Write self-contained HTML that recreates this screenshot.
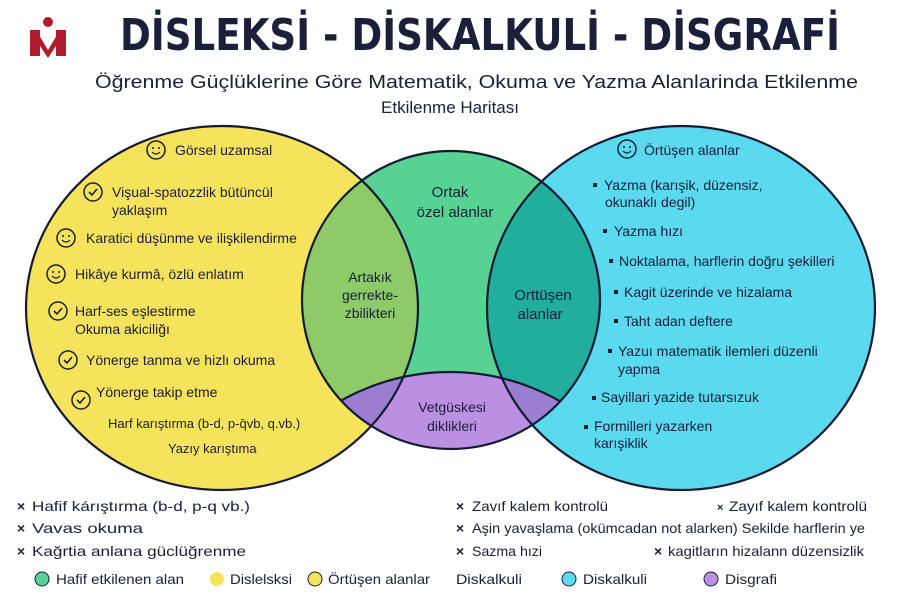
<!DOCTYPE html>
<html><head><meta charset="utf-8"><style>
html,body{margin:0;padding:0;width:900px;height:600px;background:#fff;overflow:hidden;}
svg{display:block;overflow:hidden}
svg text{font-family:"Liberation Sans","DejaVu Sans",sans-serif;fill:#1a1f3a;}
</style></head><body>
<svg width="900" height="600" viewBox="0 0 900 600" xmlns="http://www.w3.org/2000/svg">
<defs>
<clipPath id="cy"><ellipse cx="222" cy="308" rx="196" ry="182"/></clipPath>
<clipPath id="cc"><ellipse cx="681" cy="308" rx="194" ry="182"/></clipPath>
<clipPath id="cg"><circle cx="451" cy="300" r="149"/></clipPath>
<g id="sm"><circle r="9" fill="none" stroke="#1a1f3a" stroke-width="1.5"/><circle cx="-3" cy="-2" r="1" fill="#1a1f3a"/><circle cx="3" cy="-2" r="1" fill="#1a1f3a"/><path d="M-4 2 Q0 6 4 2" fill="none" stroke="#1a1f3a" stroke-width="1.2"/></g>
<g id="ck"><circle r="9" fill="none" stroke="#1a1f3a" stroke-width="1.5"/><path d="M-4 0 L-1 3 L4 -3" fill="none" stroke="#1a1f3a" stroke-width="1.6"/></g>
</defs>
<rect x="30" y="30" width="10" height="26" fill="#b01c2e"/>
<rect x="56" y="30" width="10" height="26" fill="#b01c2e"/>
<path d="M36 30 L48 50 L60 30 L60 40 L48 58 L36 40Z" fill="#b01c2e"/>
<circle cx="48" cy="22" r="5" fill="#b01c2e"/>
<text x="120" y="50" font-size="44" font-weight="bold" textLength="720" lengthAdjust="spacingAndGlyphs" style="font-family:'DejaVu Sans Condensed','Liberation Sans',sans-serif">DİSLEKSİ - DİSKALKULİ - DİSGRAFİ</text>
<text x="95" y="88" font-size="18" textLength="763" lengthAdjust="spacingAndGlyphs">Öğrenme Güçlüklerine Göre Matematik, Okuma ve Yazma Alanlarinda Etkilenme</text>
<text x="450" y="113" text-anchor="middle" font-size="17">Etkilenme Haritası</text>

<ellipse cx="222" cy="308" rx="196" ry="182" fill="#f5e35c"/>
<ellipse cx="681" cy="308" rx="194" ry="182" fill="#5bd9ef"/>
<circle cx="451" cy="300" r="149" fill="#58d292"/>
<g clip-path="url(#cg)">
<ellipse cx="222" cy="308" rx="196" ry="182" fill="#8ccb68"/>
<ellipse cx="681" cy="308" rx="194" ry="182" fill="#22ae9d"/>
<circle cx="450" cy="594" r="222" fill="#bb8fe2"/>
<g clip-path="url(#cy)"><circle cx="450" cy="594" r="222" fill="#9b7ecf"/></g>
<g clip-path="url(#cc)"><circle cx="450" cy="594" r="222" fill="#9b7ecf"/></g>
</g>
<g fill="none" stroke="#141a33" stroke-width="2.2">
<ellipse cx="222" cy="308" rx="196" ry="182"/>
<ellipse cx="681" cy="308" rx="194" ry="182"/>
<circle cx="451" cy="300" r="149"/>
<g clip-path="url(#cg)"><circle cx="450" cy="594" r="222"/></g>
</g>

<g font-size="14">
<use href="#sm" x="156" y="150"/>
<text x="175" y="155">Görsel uzamsal</text>
<use href="#ck" x="93" y="192"/>
<text x="112" y="197">Vişual-spatozzlik bütüncül</text>
<text x="112" y="215">yaklaşım</text>
<use href="#sm" x="66" y="238"/>
<text x="86" y="243">Karatici düşünme ve ilişkilendirme</text>
<use href="#sm" x="56" y="274"/>
<text x="75" y="279">Hikâye kurmâ, özlü enlatım</text>
<use href="#ck" x="58" y="311"/>
<text x="75" y="316">Harf-ses eşlestirme</text>
<text x="75" y="334">Okuma akiciliğı</text>
<use href="#ck" x="68" y="360"/>
<text x="86" y="365">Yönerge tanma ve hizlı okuma</text>
<use href="#ck" x="81" y="400"/>
<text x="96" y="397">Yönerge takip etme</text>
<text x="108" y="428" font-size="13">Harf karıştırma (b-d, p-q̄vb, q.vb.)</text>
<text x="168" y="453" font-size="13">Yazıy karıştıma</text>

<text x="450" y="197" text-anchor="middle" font-size="15">Ortak</text>
<text x="455" y="217" text-anchor="middle" font-size="15">özel alanlar</text>
<text x="370" y="282" text-anchor="middle" font-size="14">Artakık</text>
<text x="370" y="300" text-anchor="middle" font-size="14">gerrekte-</text>
<text x="370" y="318" text-anchor="middle" font-size="14">zbilikteri</text>
<text x="543" y="300" text-anchor="middle" font-size="15">Orttüşen</text>
<text x="540" y="319" text-anchor="middle" font-size="15">alanlar</text>
<text x="452" y="412" text-anchor="middle" font-size="14">Vetgüskesi</text>
<text x="452" y="431" text-anchor="middle" font-size="14">diklikleri</text>

<use href="#sm" x="627" y="149"/>
<text x="644" y="155">Örtüşen alanlar</text>
<g fill="#1a1f3a">
<rect x="593" y="183" width="4" height="4"/><rect x="603" y="229" width="4" height="4"/>
<rect x="609" y="259" width="4" height="4"/><rect x="614" y="290" width="4" height="4"/>
<rect x="614" y="319" width="4" height="4"/><rect x="608" y="349" width="4" height="4"/>
<rect x="592" y="396" width="4" height="4"/><rect x="584" y="425" width="4" height="4"/>
</g>
<text x="604" y="190">Yazma (karışik, düzensiz,</text>
<text x="605" y="207">okunaklı degil)</text>
<text x="614" y="236">Yazma hızı</text>
<text x="619" y="266">Noktalama, harflerin doğru şekilleri</text>
<text x="624" y="297">Kagit üzerinde ve hizalama</text>
<text x="624" y="326">Taht adan deftere</text>
<text x="618" y="356">Yazuı matematik ilemleri düzenli</text>
<text x="618" y="374">yapma</text>
<text x="601" y="402">Sayillari yazide tutarsızuk</text>
<text x="594" y="431">Formilleri yazarken</text>
<text x="594" y="448">karışiklik</text>
</g>

<g font-size="14">
<g fill="#c0392b" font-weight="bold">
<text x="17" y="511">×</text><text x="17" y="533">×</text><text x="17" y="556">×</text>
<text x="456" y="511">×</text><text x="456" y="533">×</text><text x="456" y="556">×</text>
<text x="717" y="511" font-size="11">×</text><text x="654" y="556">×</text>
</g>
<text x="32" y="511" textLength="218" lengthAdjust="spacingAndGlyphs">Hafif kárıştırma (b-d, p-q vb.)</text>
<text x="32" y="533" textLength="111" lengthAdjust="spacingAndGlyphs">Vavas okuma</text>
<text x="32" y="556" textLength="214" lengthAdjust="spacingAndGlyphs">Kağrtia anlana güclüğrenme</text>
<text x="472" y="511" textLength="136" lengthAdjust="spacingAndGlyphs">Zavıf kalem kontrolü</text>
<text x="472" y="533" textLength="393" lengthAdjust="spacingAndGlyphs">Aşin yavaşlama (okümcadan not alarken)  Sekilde harflerin ye</text>
<text x="472" y="556" textLength="70" lengthAdjust="spacingAndGlyphs">Sazma hızi</text>
<text x="729" y="511" textLength="138" lengthAdjust="spacingAndGlyphs">Zayıf kalem kontrolü</text>
<text x="668" y="556" textLength="196" lengthAdjust="spacingAndGlyphs">kagitların hizalann düzensizlik</text>
<circle cx="42" cy="579" r="7" fill="#58d292" stroke="#1a1f3a"/>
<text x="56" y="584" textLength="128" lengthAdjust="spacingAndGlyphs">Hafif etkilenen alan</text>
<circle cx="217" cy="579" r="7" fill="#f5e35c"/>
<text x="230" y="584" textLength="62" lengthAdjust="spacingAndGlyphs">Dislelsksi</text>
<circle cx="315" cy="579" r="7" fill="#f5e35c" stroke="#1a1f3a"/>
<text x="328" y="584" textLength="102" lengthAdjust="spacingAndGlyphs">Örtüşen alanlar</text>
<text x="456" y="584" textLength="66" lengthAdjust="spacingAndGlyphs">Diskalkuli</text>
<circle cx="569" cy="579" r="7" fill="#5bd9ef" stroke="#1a1f3a"/>
<text x="583" y="584" textLength="64" lengthAdjust="spacingAndGlyphs">Diskalkuli</text>
<circle cx="711" cy="579" r="7" fill="#bb8fe2" stroke="#1a1f3a"/>
<text x="725" y="584" textLength="52" lengthAdjust="spacingAndGlyphs">Disgrafi</text>
</g>
</svg>
</body></html>
